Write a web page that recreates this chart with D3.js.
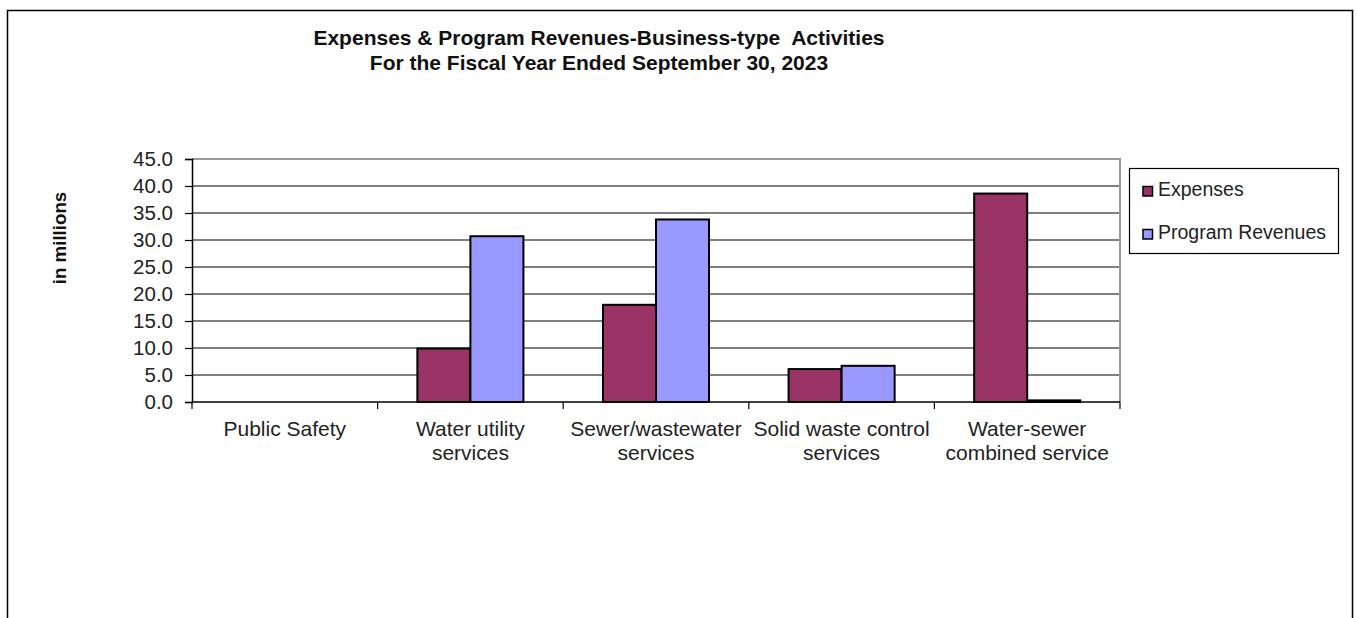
<!DOCTYPE html>
<html><head><meta charset="utf-8">
<script src="https://cdn.jsdelivr.net/npm/d3@7"></script>
<style>
body{margin:0;background:#fff;}
svg{display:block;font-family:"Liberation Sans",Arial,sans-serif;}
</style></head>
<body><svg id="c" width="1357" height="618"></svg>
<script>
const categories = [["Public Safety"],["Water utility","services"],["Sewer/wastewater","services"],["Solid waste control","services"],["Water-sewer","combined service"]];
const seriesNames = ["Expenses","Program Revenues"];
const expenses = [0, 9.9, 18.0, 6.1, 38.6];
const revenues = [0, 30.7, 33.8, 6.7, 0.3];
const yTicks = [0,5,10,15,20,25,30,35,40,45];
const colors = ["#993366","#9999FF"];
const titleLines = ["Expenses & Program Revenues-Business-type  Activities","For the Fiscal Year Ended September 30, 2023"];
const yTitle = "in millions";

const svg = d3.select("#c");
// outer frame (open at bottom)
svg.append("path").attr("d","M7.5,618 V10.5 H1352.5 V618").attr("fill","none").attr("stroke","#000").attr("stroke-width",1.5);

const L=192,R=1120,T=159,B=402;
const x = d3.scaleBand().domain(d3.range(categories.length)).range([L,R]).paddingInner(0).paddingOuter(0);
const inner = d3.scaleBand().domain([0,1]).range([0,x.bandwidth()]).paddingInner(0).paddingOuter(0.75);
const y = d3.scaleLinear().domain([0,45]).range([B,T]);

// gridlines
svg.append("g").selectAll("line").data(yTicks.filter(d=>d>0 && d<45)).join("line")
  .attr("x1",L).attr("x2",R).attr("y1",d=>y(d)).attr("y2",d=>y(d)).attr("stroke","#000").attr("stroke-width",1.2);
// plot border top/right gray
svg.append("path").attr("d",`M${L},${y(45)} H${R} V${B}`).attr("fill","none").attr("stroke","#999").attr("stroke-width",2);

// bars
const data = categories.map((c,i)=>[expenses[i],revenues[i]]);
const g = svg.append("g");
data.forEach((vals,i)=>{
  g.append("g").attr("transform",`translate(${x(i)},0)`).selectAll("rect").data(vals).join("rect")
   .attr("x",(d,j)=>inner(j)).attr("width",inner.bandwidth())
   .attr("y",d=>y(d)).attr("height",d=>B-y(d))
   .attr("fill",(d,j)=>colors[j]).attr("stroke","#000").attr("stroke-width",2);
});

// y axis
const ya = svg.append("g").attr("transform",`translate(${L},0)`).call(d3.axisLeft(y).tickValues(yTicks).tickFormat(d3.format(".1f")).tickSize(7).tickPadding(12));
ya.select(".domain").attr("stroke","#000").attr("stroke-width",1.5);
ya.selectAll(".tick line").attr("stroke","#000").attr("stroke-width",1.2);
ya.selectAll("text").attr("font-size",20.5).attr("fill","#222").attr("font-family","Liberation Sans, Arial, sans-serif");

// x axis
const xa = svg.append("g").attr("transform",`translate(0,${B})`);
xa.append("line").attr("x1",L).attr("x2",R).attr("stroke","#000").attr("stroke-width",1.5);
xa.selectAll(".tk").data(d3.range(categories.length+1)).join("line").attr("class","tk")
  .attr("x1",d=>L+d*x.step()).attr("x2",d=>L+d*x.step()).attr("y1",0).attr("y2",7).attr("stroke","#000").attr("stroke-width",1.2);
categories.forEach((lines,i)=>{
  const t = xa.append("text").attr("text-anchor","middle").attr("font-size",21).attr("fill","#222");
  lines.forEach((ln,k)=>t.append("tspan").attr("x",x(i)+x.bandwidth()/2).attr("y",34+k*24).text(ln));
});

// title
const tt = svg.append("text").attr("text-anchor","middle").attr("font-weight","bold").attr("font-size",21).attr("fill","#111").attr("xml:space","preserve");
titleLines.forEach((ln,k)=>tt.append("tspan").attr("x",599).attr("y",45+k*24.5).text(ln));

// y title
svg.append("text").attr("transform","translate(66,238) rotate(-90)").attr("text-anchor","middle")
  .attr("font-weight","bold").attr("font-size",18.7).attr("fill","#111").text(yTitle);

// legend
const lg = svg.append("g");
lg.append("rect").attr("x",1129.5).attr("y",168.5).attr("width",209).attr("height",85).attr("fill","#fff").attr("stroke","#000").attr("stroke-width",1.2);
seriesNames.forEach((n,k)=>{
  const cy = 189+k*43;
  lg.append("rect").attr("x",1143).attr("y",cy-2.5).attr("width",9.5).attr("height",9.5).attr("fill",colors[k]).attr("stroke","#000").attr("stroke-width",1.5);
  lg.append("text").attr("x",1158).attr("y",cy+6.5).attr("font-size",19.5).attr("fill","#222").text(n);
});
</script></body></html>
